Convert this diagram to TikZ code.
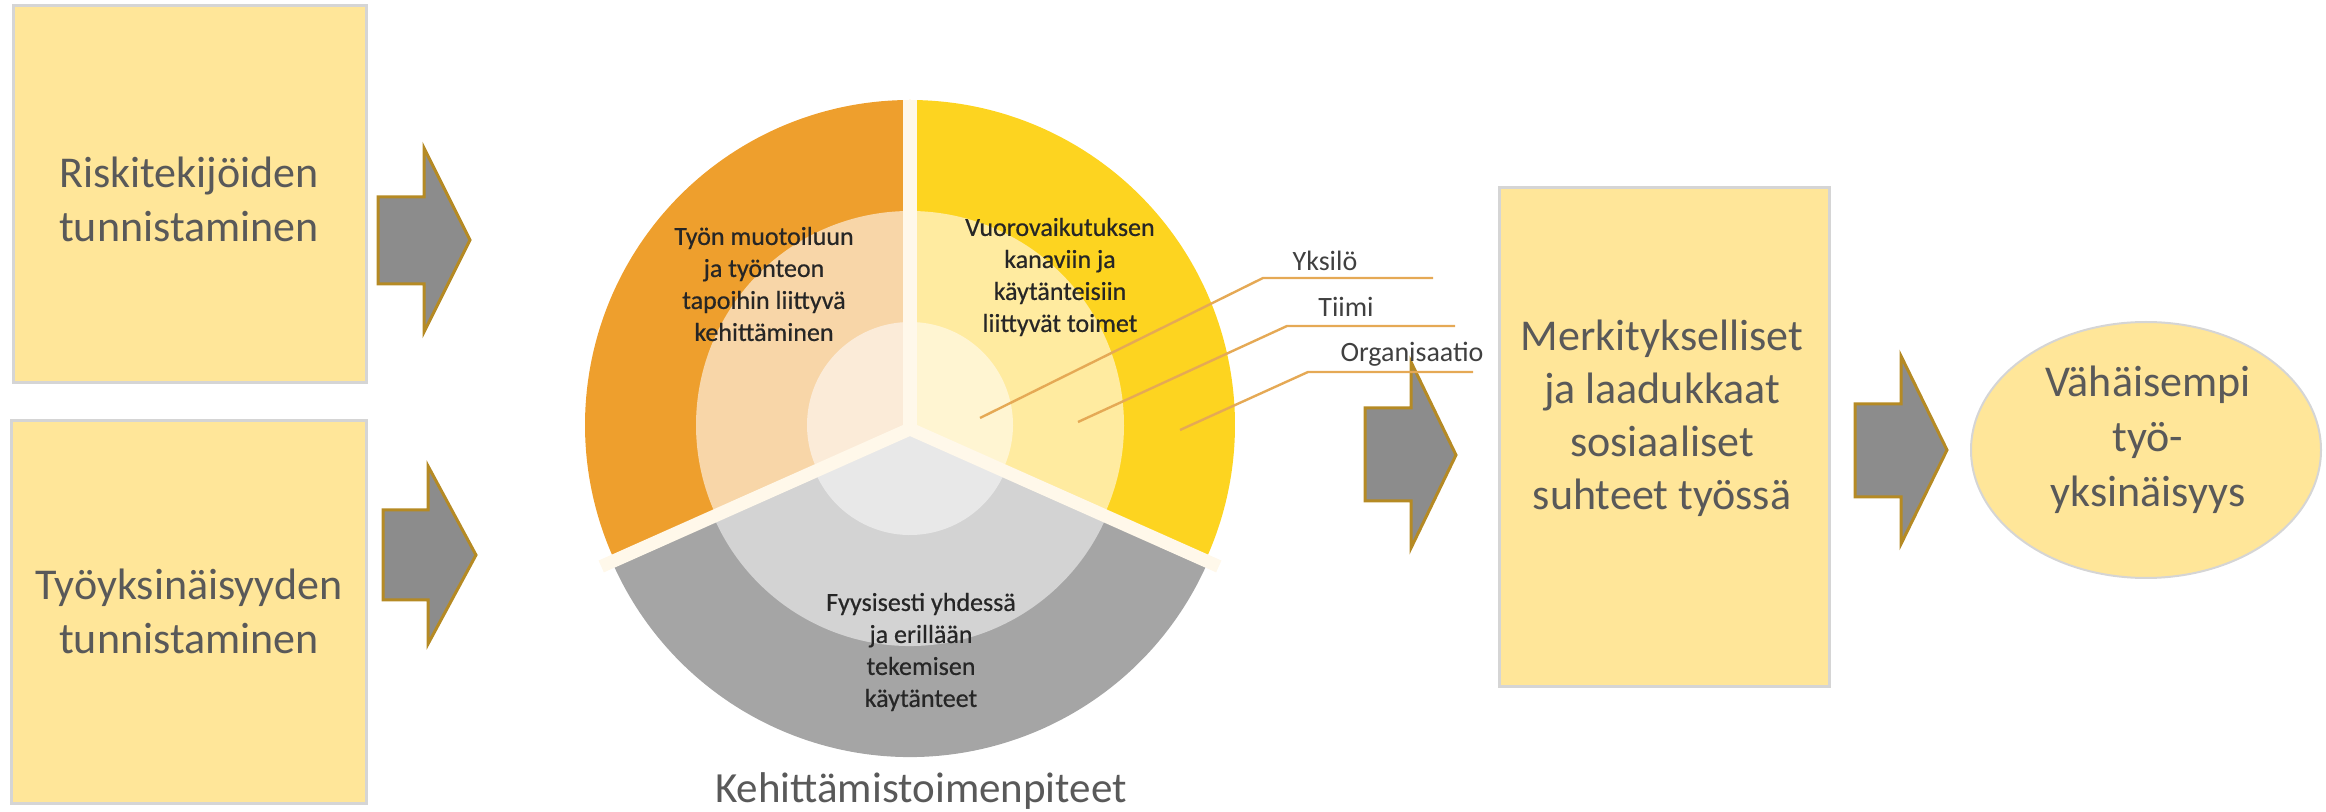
\documentclass[tikz,border=0pt]{standalone}
\usepackage{fontspec}
\setmainfont{Carlito}
\newfontfamily\circfont[FakeBold=0.5]{Carlito}
\definecolor{boxfill}{HTML}{FFE699}
\definecolor{boxline}{HTML}{D5D5D5}
\definecolor{txt}{HTML}{595959}
\definecolor{arrfill}{HTML}{8C8C8C}
\definecolor{arrline}{HTML}{B58A24}
\definecolor{orO}{HTML}{EE9F2D}
\definecolor{orM}{HTML}{F8D6A8}
\definecolor{orI}{HTML}{FBEBD8}
\definecolor{yeO}{HTML}{FDD420}
\definecolor{yeM}{HTML}{FFEBA0}
\definecolor{yeI}{HTML}{FFF5D2}
\definecolor{grO}{HTML}{A5A5A5}
\definecolor{grM}{HTML}{D3D3D3}
\definecolor{grI}{HTML}{E8E8E8}
\definecolor{gapc}{HTML}{FFF8EA}
\definecolor{leadc}{HTML}{E5A955}
\definecolor{ctext}{HTML}{262626}
\definecolor{ltext}{HTML}{404040}
\tikzset{
  ybox/.style={draw=boxline, fill=boxfill, line width=1.5pt},
  bigtxt/.style={text=txt, align=center, inner sep=0pt, font=\fontsize{22}{27}\selectfont},
  circtxt/.style={text=ctext, align=center, inner sep=0pt, font=\circfont\fontsize{13}{16}\selectfont},
  lbl/.style={text=ltext, inner sep=0pt, anchor=base, font=\fontsize{14}{16}\selectfont},
  blk/.style={fill=arrfill, draw=arrline, line width=1.5pt, line join=miter},
  leadline/.style={draw=leadc, line width=1.2pt},
  gapline/.style={draw=gapc, line width=6.5pt}
}
\begin{document}
\begin{tikzpicture}[x=0.5pt,y=-0.5pt]
\useasboundingbox (0,0) rectangle (2326,812);

% left boxes
\path[ybox] (13,6) rectangle (366,383);
\node[bigtxt] (t1) at (189,199) {Riskitekijöiden\\tunnistaminen};
\path[ybox] (11,421) rectangle (366,803);
\node[bigtxt] (t2) at (189,611) {Työyksinäisyyden\\tunnistaminen};

% block arrows
\path[blk] (378,197) -- (424,197) -- (424,148) -- (470,240) -- (424,332) -- (424,284) -- (378,284) -- cycle;
\path[blk] (383,510) -- (428,510) -- (428,466) -- (476,555) -- (428,644) -- (428,600) -- (383,600) -- cycle;
\path[blk] (1365,408) -- (1411,408) -- (1411,362) -- (1456,455) -- (1411,548) -- (1411,501) -- (1365,501) -- cycle;
\path[blk] (1855,404) -- (1901,404) -- (1901,356) -- (1947,450) -- (1901,544) -- (1901,497) -- (1855,497) -- cycle;

% circle
\coordinate (C) at (910,425);
\coordinate (G) at (910,432);
\coordinate (J) at (910,429);
% orange sector (visual 90..204)
\fill[orO] (C) -- ++(156:325) arc[start angle=156, end angle=270, radius=325] -- cycle;
\fill[orM] (C) -- ++(156:214) arc[start angle=156, end angle=270, radius=214] -- cycle;
\fill[orI] (C) -- ++(156:103) arc[start angle=156, end angle=270, radius=103] -- cycle;
% yellow sector (visual -24..90)
\fill[yeO] (C) -- ++(-90:325) arc[start angle=-90, end angle=24, radius=325] -- cycle;
\fill[yeM] (C) -- ++(-90:214) arc[start angle=-90, end angle=24, radius=214] -- cycle;
\fill[yeI] (C) -- ++(-90:103) arc[start angle=-90, end angle=24, radius=103] -- cycle;
% gray sector (visual 204..336)
\fill[grO] (G) -- ++(24:325) arc[start angle=24, end angle=156, radius=325] -- cycle;
\fill[grM] (G) -- ++(24:214) arc[start angle=24, end angle=156, radius=214] -- cycle;
\fill[grI] (G) -- ++(24:103) arc[start angle=24, end angle=156, radius=103] -- cycle;
% gaps
\draw[gapline, line width=7pt] (J) -- ++(270:329);
\draw[gapline] (J) -- ++(156:338);
\draw[gapline] (J) -- ++(24:338);
\fill[gapc] (J) circle (7);

\node[circtxt] (c1) at (764,284) {Työn muotoiluun\\ja työnteon\\tapoihin liittyvä\\kehittäminen};
\node[circtxt] (c2) at (1060,277) {Vuorovaikutuksen\\kanaviin ja\\käytänteisiin\\liittyvät toimet};
\node[circtxt] (c3) at (921,652) {Fyysisesti yhdessä\\ja erillään\\tekemisen\\käytänteet};
\node[text=txt, inner sep=0pt, anchor=base, font=\fontsize{21.5}{24}\selectfont] (kt) at (921,802) {Kehittämistoimenpiteet};

% leader lines
\coordinate (y0) at (980,418);
\coordinate (y1) at (1263,278);
\coordinate (y2) at (1433,278);
\coordinate (m0) at (1078,422);
\coordinate (m1) at (1287,326);
\coordinate (m2) at (1455,326);
\coordinate (o0) at (1180,430);
\coordinate (o1) at (1308,372);
\coordinate (o2) at (1473,372);
\draw[leadline] (y0) -- (y1) -- (y2);
\draw[leadline] (m0) -- (m1) -- (m2);
\draw[leadline] (o0) -- (o1) -- (o2);
\node[lbl] (ly) at (1325,271) {Yksilö};
\node[lbl] (lm) at (1346,317) {Tiimi};
\node[lbl] (lo) at (1412,362) {Organisaatio};

% right box
\path[ybox] (1499,188) rectangle (1829,687);
\node[bigtxt, font=\fontsize{22}{26.5}\selectfont] (t3) at (1662,418) {Merkitykselliset\\ja laadukkaat\\sosiaaliset\\suhteet työssä};

% ellipse
\path[draw=boxline, fill=boxfill, line width=1pt] (2146,450) ellipse [x radius=175, y radius=128];
\node[bigtxt, font=\fontsize{22}{27.5}\selectfont] (t4) at (2148,440) {Vähäisempi\\työ-\\yksinäisyys};
\end{tikzpicture}
\end{document}
